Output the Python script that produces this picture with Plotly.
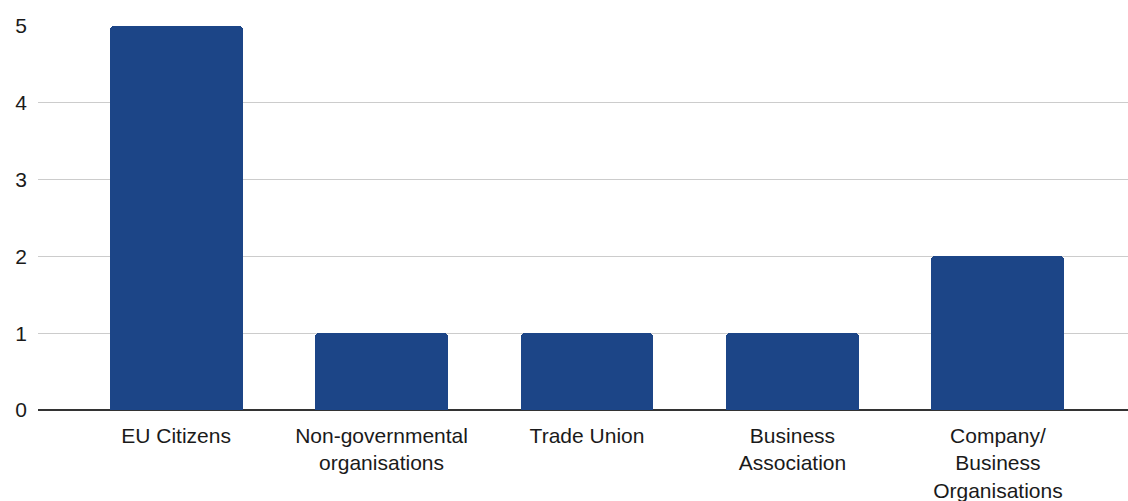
import plotly.graph_objects as go

categories = ["EU Citizens", "Non-governmental<br>organisations", "Trade Union",
              "Business<br>Association", "Company/<br>Business<br>Organisations"]
values = [5, 1, 1, 1, 2]
y_ticks = [0, 1, 2, 3, 4, 5]

fig = go.Figure(go.Bar(
    x=list(range(len(categories))),
    y=values,
    width=0.647,
    marker=dict(color="#1c4587", line=dict(width=0), cornerradius=4),
    hoverinfo="skip",
))

fig.update_layout(
    width=1128, height=501,
    margin=dict(l=38, r=0, t=26, b=91),
    plot_bgcolor="white", paper_bgcolor="white",
    font=dict(family="Liberation Sans, Arial, sans-serif", size=21, color="#1a1a1a"),
    showlegend=False,
    bargap=0,
)
fig.update_xaxes(
    tickmode="array", tickvals=list(range(len(categories))), ticktext=categories,
    range=[-0.672, 4.633], showgrid=False, showline=False, zeroline=False,
    ticks="", ticklabelstandoff=11, tickfont=dict(size=21), automargin=False,
)
fig.update_yaxes(
    range=[0, 5], tickvals=y_ticks, showgrid=True, gridcolor="#cccccc", gridwidth=1,
    zeroline=True, zerolinecolor="#333333", zerolinewidth=2,
    showline=False, ticks="", ticklabelstandoff=10, automargin=False,
)

fig.write_html(
    "out.html",
    config={"displayModeBar": False},
    post_script="document.body.style.margin='0';document.body.style.overflow='hidden';",
)
